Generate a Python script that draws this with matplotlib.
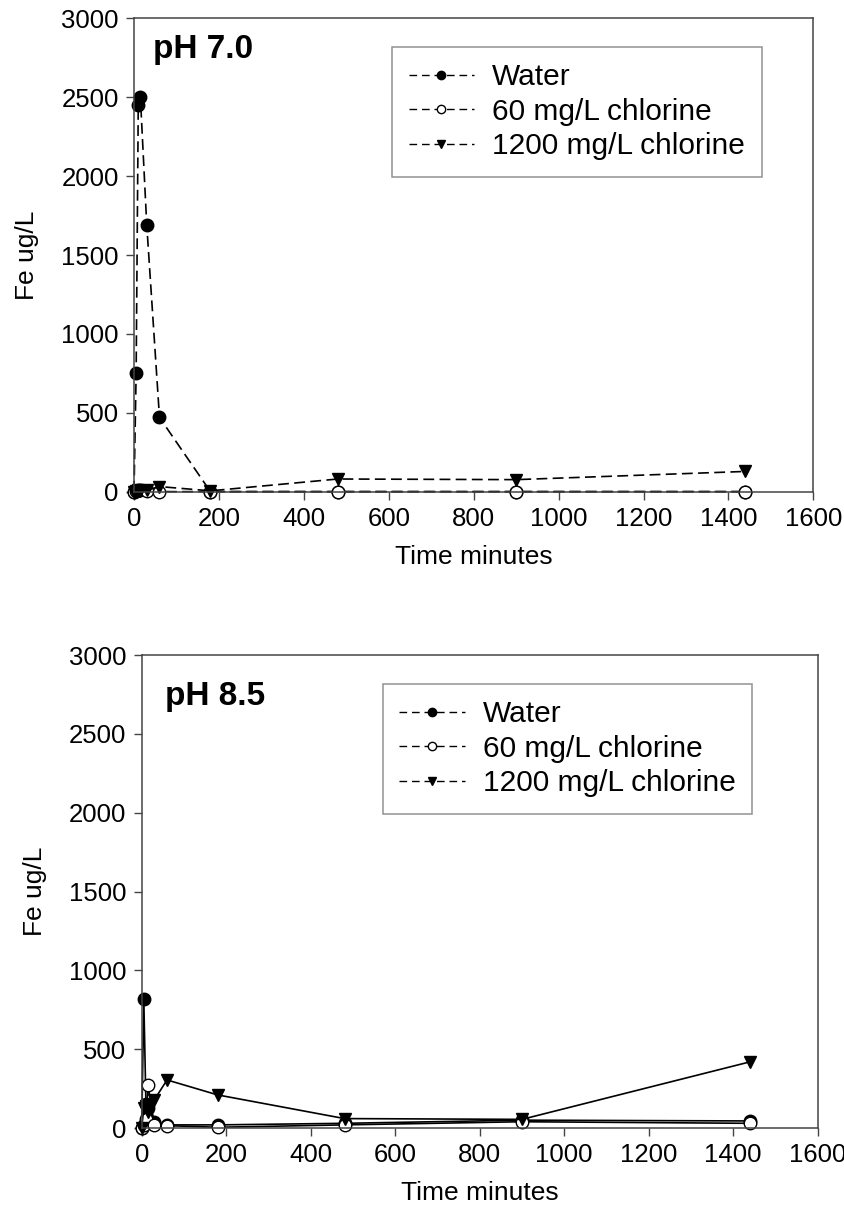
import matplotlib.pyplot as plt
from matplotlib.lines import Line2D

plt.rcParams['font.family'] = ['Liberation Sans', 'DejaVu Sans']

# sampling times (minutes)
time_min = [0, 5, 10, 15, 30, 60, 180, 480, 900, 1440]

# pH 7.0
water_70 = [0, 750, 2450, 2500, 1690, 470, 0, 0, 0, 0]
cl60_70 = [0, 5, 10, 8, 5, 0, 0, 0, 0, 0]
cl1200_70 = [0, 5, 10, 5, 10, 32, 5, 80, 76, 128]

# pH 8.5
water_85 = [0, 816, 150, 130, 40, 20, 20, 30, 50, 45]
cl60_85 = [0, 20, 60, 270, 20, 15, 5, 20, 40, 30]
cl1200_85 = [0, 130, 140, 100, 180, 305, 210, 60, 55, 420]

labels = ['Water', '60 mg/L chlorine', '1200 mg/L chlorine']
styles = [dict(marker='o', mfc='black', mec='black'),
          dict(marker='o', mfc='white', mec='black'),
          dict(marker='v', mfc='black', mec='black')]

dash = (0, (6.5, 3.2))
spine_col = '#444444'

fig = plt.figure(figsize=(8.45, 12.26), dpi=100)
ax1 = fig.add_axes([0.1586, 0.599, 0.804, 0.386])
ax2 = fig.add_axes([0.1677, 0.0799, 0.800, 0.3858])


def draw(ax, series, ls, title, leg_box):
    for ys, st in zip(series, styles):
        ax.plot(time_min, ys, color='black', lw=1.2, linestyle=ls,
                markersize=9, mew=1.0, clip_on=False, **st)
    ax.set_xlim(0, 1600)
    ax.set_ylim(0, 3000)
    ax.set_xticks(range(0, 1601, 200))
    ax.set_yticks(range(0, 3001, 500))
    ax.tick_params(direction='out', length=6, width=1, color=spine_col,
                   labelsize=18.5, pad=5, top=False, right=False)
    for sp in ax.spines.values():
        sp.set_color(spine_col)
        sp.set_linewidth(1.1)
    ax.set_xlabel('Time minutes', fontsize=19, labelpad=10)
    ax.set_ylabel('Fe ug/L', fontsize=19, labelpad=16)
    ax.text(title[1], title[2], title[0], transform=ax.transAxes,
            fontsize=24, fontweight='bold', va='top', ha='left')

    handles = [Line2D([], [], color='black', lw=1.0, linestyle=(0, (5.5, 3.5)),
                      markersize=6, **st) for st in styles]
    leg = ax.legend(handles, labels, loc='upper left', bbox_to_anchor=leg_box,
                    fontsize=21.5, frameon=True, fancybox=False,
                    handlelength=2.2, handletextpad=0.6, labelspacing=0.22,
                    borderpad=0.55, borderaxespad=0)
    leg.get_frame().set_edgecolor('#777777')
    leg.get_frame().set_linewidth(1.1)


draw(ax1, [water_70, cl60_70, cl1200_70], dash, ('pH 7.0', 0.028, 0.968), (0.38, 0.94))
draw(ax2, [water_85, cl60_85, cl1200_85], '-', ('pH 8.5', 0.034, 0.945), (0.357, 0.939))

fig.savefig('out.png', dpi=100)
